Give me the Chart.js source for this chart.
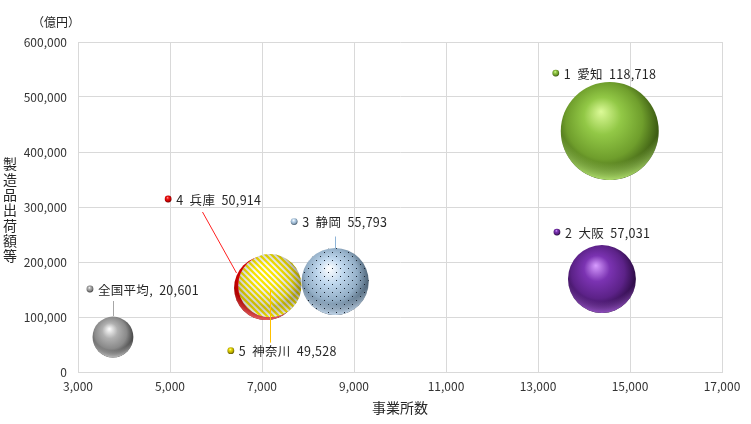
<!DOCTYPE html>
<html lang="ja">
<head>
  <meta charset="UTF-8" />
  <title>事業所数と製造品出荷額等</title>
  <script src="https://cdn.jsdelivr.net/npm/chart.js"></script>
  <style>
    html, body { margin: 0; padding: 0; background: #fff; }
    canvas { display: block; }
  </style>
</head>
<body>
  <canvas id="bubbleChart" width="751" height="424"></canvas>

  <script>
    // data
    const names = ['愛知', '大阪', '静岡', '兵庫', '神奈川', '全国平均'];
    const ranks = ['1', '2', '3', '4', '5', ''];
    const offices = [14560, 14390, 8590, 7090, 7170, 3760];              // 事業所数
    const shipments = [438000, 169000, 164500, 152700, 157000, 63600];   // 製造品出荷額等（億円）
    const bubbleValues = [118718, 57031, 55793, 50914, 49528, 20601];
    const xTicks = [3000, 5000, 7000, 9000, 11000, 13000, 15000, 17000];
    const yTicks = [0, 100000, 200000, 300000, 400000, 500000, 600000];

    // styles (kept apart from the data)
    const FONT = '"Noto Sans CJK JP", "Noto Sans", sans-serif';
    const TEXT = '#262626';
    const GRID = '#d9d9d9';
    const bubbleScale = 49 / Math.sqrt(118718);   // px radius per sqrt(value)
    const sphereStyles = [
      { hi: '#dcfa98', base: '#92c846', mid: '#6f9e2c', dark: '#2f4a0c', rim: [190, 240, 120] },
      { hi: '#d79cff', base: '#7b33b2', mid: '#5c2288', dark: '#220636', rim: [160, 90, 210] },
      { hi: '#ffffff', base: '#c0d8ee', mid: '#93aec6', dark: '#3e5264', rim: [215, 235, 255] },
      { hi: '#ff9c9c', base: '#ee1a1a', mid: '#cc0000', dark: '#6a0000', rim: [255, 110, 110] },
      { hi: '#ffffff', base: '#f6f6f6', mid: '#d6d6d6', dark: '#8a8a8a', rim: [255, 255, 255] },
      { hi: '#ffffff', base: '#b0b0b0', mid: '#8a8a8a', dark: '#383838', rim: [205, 205, 205] }
    ];
    const markerStyles = sphereStyles.map((s, i) => i === 4
      ? { hi: '#ffffb0', base: '#e6d800', mid: '#b8aa00', dark: '#5a5000' }
      : s);
    const textures = [null, null, 'dots', null, 'stripes', null];
    // label marker position, relative to the bubble centre (px)
    const labelOffsets = [[-54, -58], [-45, -47], [-41, -60], [-98, -89], [-39, 65], [-23, -48]];
    const leaders = [
      null,
      null,
      { from: [0, -45], to: [0, -33], color: '#8fb5d8' },
      { from: [-64, -76], to: [-30, -15], color: '#ff2020' },
      { from: [0, 4], to: [0, 57], color: '#ffc000' },
      { from: [0, -36], to: [0, -21], color: '#a6a6a6' }
    ];

    const fmt = v => v.toLocaleString('en-US');

    function sphereGradient(ctx, cx, cy, r, s) {
      const g = ctx.createRadialGradient(cx - 0.18 * r, cy - 0.4 * r, 0, cx - 0.08 * r, cy - 0.12 * r, 1.15 * r);
      g.addColorStop(0, s.hi);
      g.addColorStop(0.33, s.base);
      g.addColorStop(0.68, s.mid);
      g.addColorStop(1, s.dark);
      return g;
    }

    function drawRim(ctx, cx, cy, r, s) {
      const [R, G, B] = s.rim;
      const g = ctx.createRadialGradient(cx, cy - 0.45 * r, 1.1 * r, cx, cy - 0.45 * r, 1.46 * r);
      g.addColorStop(0, `rgba(${R},${G},${B},0)`);
      g.addColorStop(1, `rgba(${R},${G},${B},0.9)`);
      ctx.fillStyle = g;
      ctx.fill();
    }

    function drawStripes(ctx, cx, cy, r) {
      ctx.save();
      ctx.globalCompositeOperation = 'multiply';
      ctx.strokeStyle = '#ffec00';
      ctx.lineWidth = 2.3;
      for (let k = -2 * r - 6; k <= 2 * r + 6; k += 6) {
        ctx.beginPath();
        ctx.moveTo(cx + k - r - 4, cy - r - 4);
        ctx.lineTo(cx + k + r + 4, cy + r + 4);
        ctx.stroke();
      }
      ctx.restore();
    }

    function drawDots(ctx, cx, cy, r) {
      ctx.fillStyle = '#18202c';
      for (let y = Math.floor(cy - r); y <= cy + r; y++) {
        if (y % 4 !== 0) continue;
        const off = (y % 8 === 0) ? 0 : 4;
        for (let x = Math.floor((cx - r) / 8) * 8 + off; x <= cx + r; x += 8) {
          ctx.fillRect(x, y, 1, 1);
        }
      }
    }

    const spherePlugin = {
      id: 'spheres',
      beforeDatasetDraw(chart, args) {
        const ctx = chart.ctx;
        const area = chart.chartArea;
        ctx.save();
        ctx.beginPath();
        ctx.rect(area.left, area.top, area.right - area.left, area.bottom - area.top);
        ctx.clip();
        args.meta.data.forEach((el, i) => {
          el.draw(ctx, area);
          const r = el.options.radius;
          ctx.save();
          ctx.beginPath();
          ctx.arc(el.x, el.y, r, 0, Math.PI * 2);
          ctx.clip();
          drawRim(ctx, el.x, el.y, r, sphereStyles[i]);
          if (textures[i] === 'stripes') drawStripes(ctx, el.x, el.y, r);
          if (textures[i] === 'dots') drawDots(ctx, el.x, el.y, r);
          ctx.restore();
        });
        ctx.restore();
        return false;
      },
      afterDraw(chart) {
        const ctx = chart.ctx;
        const area = chart.chartArea;
        const meta = chart.getDatasetMeta(0);
        ctx.save();

        // leader lines
        meta.data.forEach((el, i) => {
          const l = leaders[i];
          if (!l) return;
          ctx.strokeStyle = l.color;
          ctx.lineWidth = 1;
          ctx.beginPath();
          ctx.moveTo(Math.round(el.x + l.from[0]) + 0.5, el.y + l.from[1]);
          ctx.lineTo(Math.round(el.x + l.to[0]) + 0.5, el.y + l.to[1]);
          ctx.stroke();
        });

        // data labels with small sphere markers
        ctx.font = '12.5px ' + FONT;
        ctx.textBaseline = 'middle';
        ctx.textAlign = 'left';
        if ('letterSpacing' in ctx) ctx.letterSpacing = '0.3px';
        meta.data.forEach((el, i) => {
          const dx = el.x + labelOffsets[i][0];
          const dy = el.y + labelOffsets[i][1];
          ctx.beginPath();
          ctx.arc(dx, dy, 3.4, 0, Math.PI * 2);
          ctx.fillStyle = sphereGradient(ctx, dx, dy, 3.4, markerStyles[i]);
          ctx.fill();
          const txt = ranks[i]
            ? `${ranks[i]}  ${names[i]}  ${fmt(bubbleValues[i])}`
            : `${names[i]},  ${fmt(bubbleValues[i])}`;
          ctx.fillStyle = TEXT;
          ctx.fillText(txt, dx + 8, dy + 1);
        });
        if ('letterSpacing' in ctx) ctx.letterSpacing = '0px';

        // unit label
        ctx.font = '12px ' + FONT;
        ctx.textAlign = 'center';
        ctx.fillStyle = TEXT;
        ctx.fillText('（億円）', area.left - 22, area.top - 20);

        // vertical (stacked) y-axis title
        const title = '製造品出荷額等';
        ctx.font = '14px ' + FONT;
        const step = 15.3;
        const y0 = (area.top + area.bottom) / 2 + 3 - step * (title.length - 1) / 2;
        [...title].forEach((ch, k) => ctx.fillText(ch, 10, y0 + k * step));
        ctx.restore();
      }
    };

    const ctx = document.getElementById('bubbleChart').getContext('2d');
    const points = names.map((n, i) => ({
      x: offices[i],
      y: shipments[i],
      r: Math.sqrt(bubbleValues[i]) * bubbleScale
    }));

    new Chart(ctx, {
      type: 'bubble',
      data: {
        datasets: [{
          label: '製造品出荷額等',
          data: points,
          borderWidth: 0,
          backgroundColor(c) {
            const s = sphereStyles[c.dataIndex] || sphereStyles[0];
            const sc = c.chart.scales;
            if (c.type !== 'data' || !c.raw || !sc.x || !sc.y) return s.base;
            const x = sc.x.getPixelForValue(c.raw.x);
            const y = sc.y.getPixelForValue(c.raw.y);
            if (!isFinite(x) || !isFinite(y)) return s.base;
            return sphereGradient(c.chart.ctx, x, y, c.raw.r, s);
          }
        }]
      },
      options: {
        responsive: false,
        animation: false,
        events: [],
        layout: { autoPadding: false, padding: { top: 42, right: 29, left: 0, bottom: 0 } },
        plugins: {
          legend: { display: false },
          tooltip: { enabled: false }
        },
        scales: {
          x: {
            type: 'linear',
            min: xTicks[0],
            max: xTicks[xTicks.length - 1],
            afterFit: s => { s.height = 52; },
            afterBuildTicks: s => { s.ticks = xTicks.map(v => ({ value: v })); },
            grid: { color: GRID, drawTicks: false },
            border: { color: GRID },
            ticks: {
              padding: 7,
              color: '#333',
              font: { family: FONT, size: 12 },
              maxRotation: 0,
              callback: v => fmt(v)
            },
            title: {
              display: true,
              text: '事業所数',
              color: TEXT,
              font: { family: FONT, size: 14 },
              padding: { top: 0, bottom: 8 }
            }
          },
          y: {
            type: 'linear',
            min: yTicks[0],
            max: yTicks[yTicks.length - 1],
            afterFit: s => { s.width = 78; },
            afterBuildTicks: s => { s.ticks = yTicks.map(v => ({ value: v })); },
            grid: { color: GRID, drawTicks: false },
            border: { color: GRID },
            ticks: {
              padding: 11,
              color: '#333',
              font: { family: FONT, size: 12 },
              callback: v => fmt(v)
            }
          }
        }
      },
      plugins: [spherePlugin]
    });
  </script>
</body>
</html>
